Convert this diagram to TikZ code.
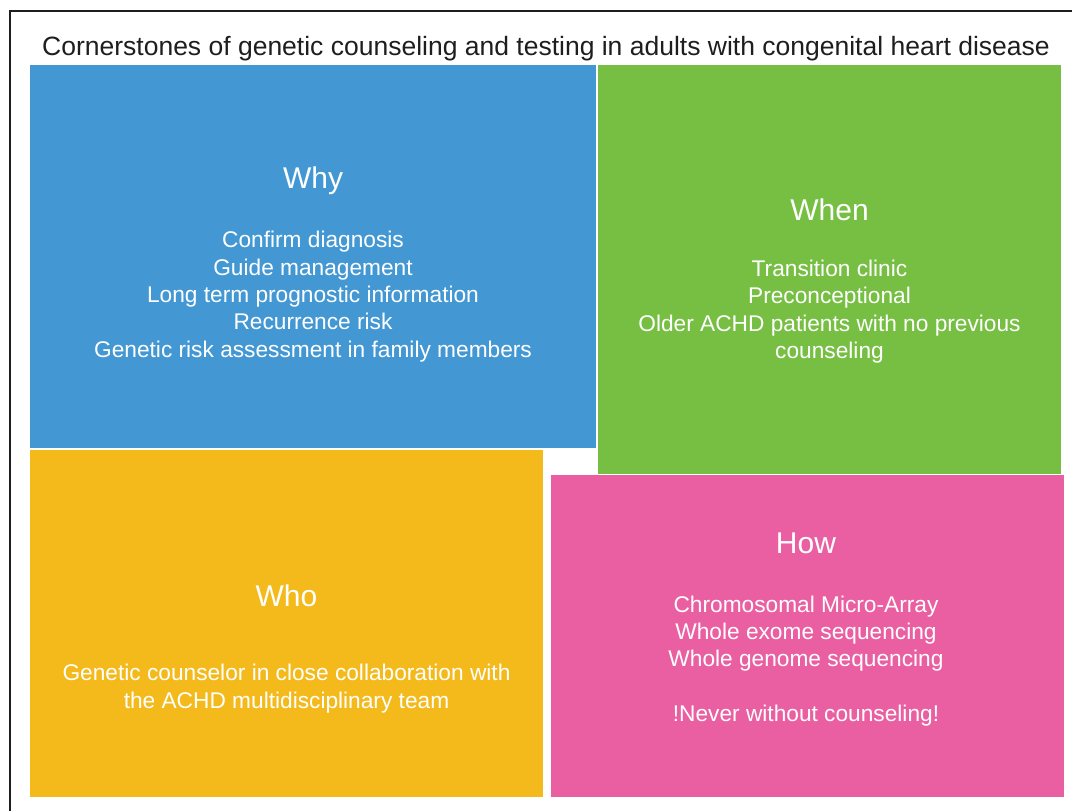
\documentclass[tikz,border=0pt]{standalone}
\usepackage{fontspec}
\setmainfont{Liberation Sans}
\definecolor{whyblue}{RGB}{67,152,211}
\definecolor{whengreen}{RGB}{118,191,67}
\definecolor{whoyellow}{RGB}{244,186,27}
\definecolor{howpink}{RGB}{234,95,162}
\definecolor{framegray}{RGB}{30,30,30}
\begin{document}
\begin{tikzpicture}[x=1pt,y=-1pt,
  panel/.style={anchor=north west, inner sep=0pt, outer sep=0pt, draw=none},
  heading/.style={anchor=base, inner sep=0pt, text=white, font=\fontsize{30}{36}\selectfont},
  % multi-line bodies are placed by the baseline of their last line
  body/.style={anchor=base, inner sep=0pt, text=white, align=center, font=\fontsize{22.7}{27.3}\selectfont},
  titletext/.style={anchor=base, inner sep=0pt, text=framegray, font=\fontsize{26.5}{32}\selectfont}]
  \useasboundingbox (0,0) rectangle (1072,811);
  \fill[white] (0,0) rectangle (1072,811);
  % frame along the top and left edges
  \draw[framegray, line width=2pt] (10,811) -- (10,11) -- (1072,11);

  \node[titletext] (title) at (546,55) {Cornerstones of genetic counseling and testing in adults with congenital heart disease};

  % coloured panels
  \node[panel, fill=whyblue,    minimum width=566pt, minimum height=383pt] (why)  at (30,65)  {};
  \node[panel, fill=whengreen,  minimum width=463pt, minimum height=409pt] (when) at (598,65) {};
  \node[panel, fill=whoyellow,  minimum width=513pt, minimum height=347pt] (who)  at (30,450) {};
  \node[panel, fill=howpink,    minimum width=513pt, minimum height=322pt] (how)  at (551,475) {};

  % Why
  \node[heading] (why-h) at (313,188) {Why};
  \node[body] (why-b) at (313,357) {Confirm diagnosis\\Guide management\\Long term prognostic information\\Recurrence risk\\Genetic risk assessment in family members};

  % When
  \node[heading] (when-h) at (829.5,220) {When};
  \node[body] (when-b) at (829.5,358.5) {Transition clinic\\Preconceptional\\Older ACHD patients with no previous\\counseling};

  % Who
  \node[heading] (who-h) at (286.5,606) {Who};
  \node[body] (who-b) at (286.5,708) {Genetic counselor in close collaboration with\\the ACHD multidisciplinary team};

  % How
  \node[heading] (how-h) at (806,553) {How};
  \node[body] (how-b) at (806,721.5) {Chromosomal Micro-Array\\Whole exome sequencing\\Whole genome sequencing\\[27.3pt]!Never without counseling!};
\end{tikzpicture}
\end{document}
